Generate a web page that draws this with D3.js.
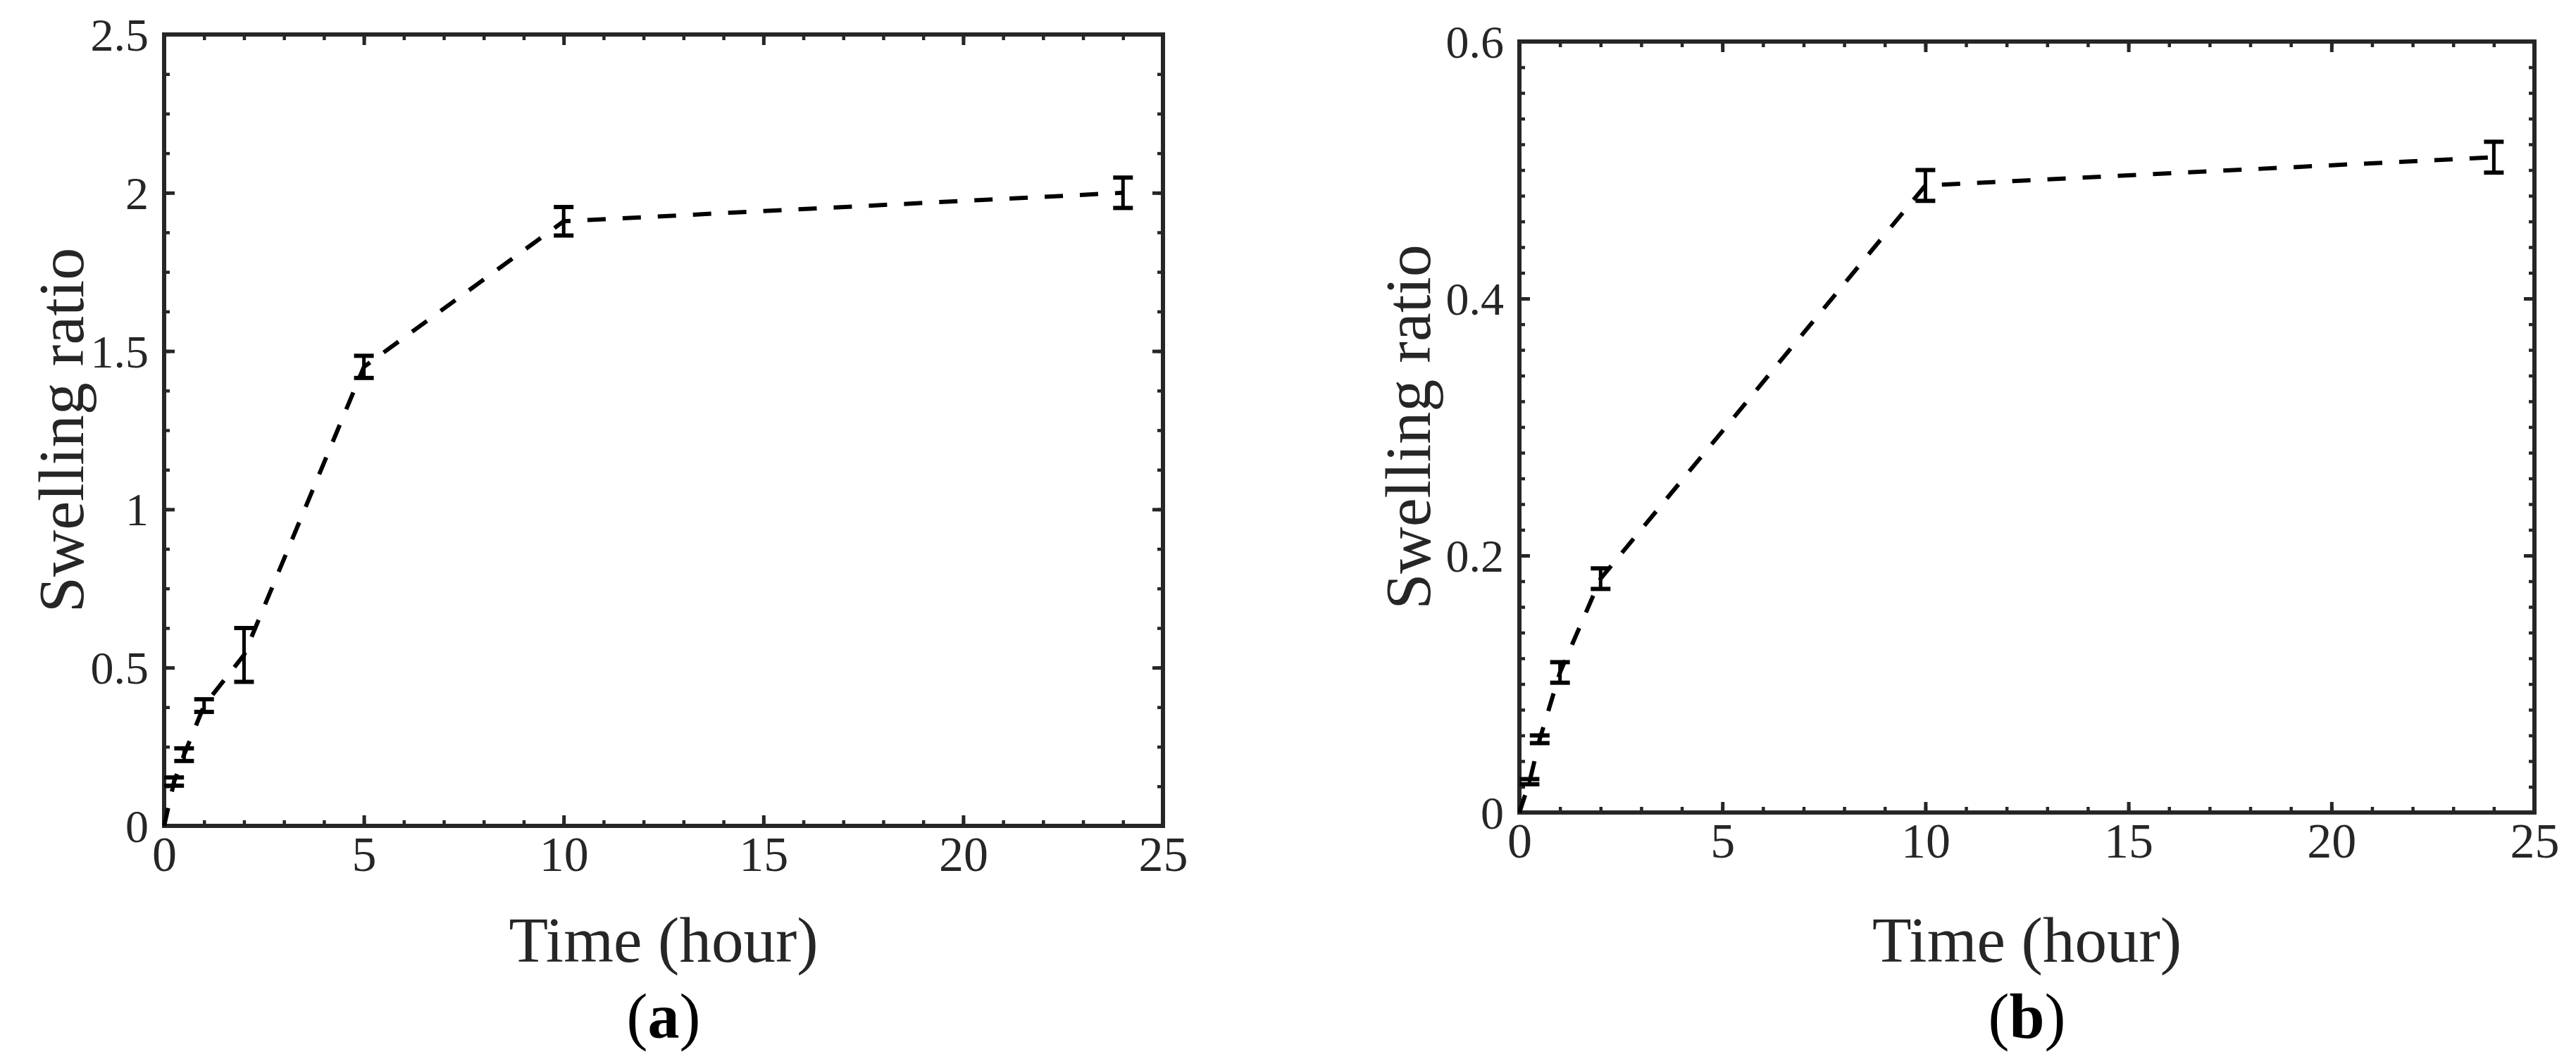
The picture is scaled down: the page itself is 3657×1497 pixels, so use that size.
<!DOCTYPE html>
<html><head><meta charset="utf-8">
<script src="https://cdn.jsdelivr.net/npm/d3@7"></script>
<style>body{margin:0;background:#fff}svg{display:block}</style>
</head><body>
<svg id="c" width="3657" height="1497"></svg>
<script>
// ---- data ----
const timeA  = [0, 0.25, 0.5, 1, 2, 5, 10, 24];
const swellA = [0, 0.14, 0.225, 0.38, 0.54, 1.45, 1.91, 2.0];
const errA   = [0, 0.013, 0.02, 0.02, 0.085, 0.035, 0.045, 0.048];

const timeB  = [0, 0.25, 0.5, 1, 2, 10, 24];
const swellB = [0, 0.024, 0.057, 0.109, 0.182, 0.488, 0.51];
const errB   = [0, 0.002, 0.003, 0.008, 0.008, 0.012, 0.012];

const xTicks  = [0, 5, 10, 15, 20, 25];
const yTicksA = [0, 0.5, 1, 1.5, 2, 2.5];
const yTicksB = [0, 0.2, 0.4, 0.6];
const xMinorStep = 1;
const yMinorStepA = 0.125;
const yMinorStepB = 0.02;
const xLabelText = "Time (hour)";
const yLabelText = "Swelling ratio";
const panelTags = ["a", "b"];

// ---- layout ----
const svg = d3.select("#c");
const FONT = "'Liberation Serif','Times New Roman',serif";
const INK = "#262626";

const panels = [
  {t: timeA, v: swellA, e: errA, yTicks: yTicksA, yMinor: yMinorStepA, tag: panelTags[0],
   x0: 233, x1: 1651, y0: 49, y1: 1173, yLabX: 86},
  {t: timeB, v: swellB, e: errB, yTicks: yTicksB, yMinor: yMinorStepB, tag: panelTags[1],
   x0: 2157, x1: 3598, y0: 59, y1: 1154, yLabX: 1998}
];

function range(a, b, s) { const out = []; const n = Math.round((b - a) / s); for (let i = 0; i <= n; i++) out.push(+(a + i * s).toFixed(6)); return out; }

panels.forEach(p => {
  const x = d3.scaleLinear().domain([xTicks[0], xTicks[xTicks.length - 1]]).range([p.x0, p.x1]);
  const y = d3.scaleLinear().domain([p.yTicks[0], p.yTicks[p.yTicks.length - 1]]).range([p.y1, p.y0]);
  const g = svg.append("g");

  const xMinor = range(xTicks[0], xTicks[xTicks.length - 1], xMinorStep);
  const yMinor = range(p.yTicks[0], p.yTicks[p.yTicks.length - 1], p.yMinor);

  function styleAxis(sel, w) {
    sel.select(".domain").remove();
    sel.selectAll(".tick line").attr("stroke", INK).attr("stroke-width", w);
  }
  // minor ticks (inward, all four sides)
  g.append("g").attr("transform", `translate(0,${p.y1})`)
    .call(d3.axisBottom(x).tickValues(xMinor).tickFormat("").tickSize(-8).tickSizeOuter(0)).call(s => styleAxis(s, 4.5));
  g.append("g").attr("transform", `translate(0,${p.y0})`)
    .call(d3.axisTop(x).tickValues(xMinor).tickFormat("").tickSize(-8).tickSizeOuter(0)).call(s => styleAxis(s, 4.5));
  g.append("g").attr("transform", `translate(${p.x0},0)`)
    .call(d3.axisLeft(y).tickValues(yMinor).tickFormat("").tickSize(-8).tickSizeOuter(0)).call(s => styleAxis(s, 4.5));
  g.append("g").attr("transform", `translate(${p.x1},0)`)
    .call(d3.axisRight(y).tickValues(yMinor).tickFormat("").tickSize(-8).tickSizeOuter(0)).call(s => styleAxis(s, 4.5));

  // major ticks + labels
  const xb = g.append("g").attr("transform", `translate(0,${p.y1})`)
    .call(d3.axisBottom(x).tickValues(xTicks).tickFormat(d3.format("")).tickSize(-15).tickSizeOuter(0).tickPadding(64));
  styleAxis(xb, 5);
  xb.selectAll("text").attr("font-family", FONT).attr("font-size", 70).attr("fill", INK).attr("dy", 0);
  const xt = g.append("g").attr("transform", `translate(0,${p.y0})`)
    .call(d3.axisTop(x).tickValues(xTicks).tickFormat("").tickSize(-15).tickSizeOuter(0));
  styleAxis(xt, 5);
  const yl = g.append("g").attr("transform", `translate(${p.x0},0)`)
    .call(d3.axisLeft(y).tickValues(p.yTicks).tickFormat(d3.format("")).tickSize(-15).tickSizeOuter(0).tickPadding(22));
  styleAxis(yl, 5);
  yl.selectAll("text").attr("font-family", FONT).attr("font-size", 66).attr("fill", INK).attr("dy", "0.34em");
  const yr = g.append("g").attr("transform", `translate(${p.x1},0)`)
    .call(d3.axisRight(y).tickValues(p.yTicks).tickFormat("").tickSize(-15).tickSizeOuter(0));
  styleAxis(yr, 5);

  // frame
  g.append("rect").attr("x", p.x0).attr("y", p.y0).attr("width", p.x1 - p.x0).attr("height", p.y1 - p.y0)
    .attr("fill", "none").attr("stroke", INK).attr("stroke-width", 6);

  // data
  const pts = p.t.map((t, i) => ({t, v: p.v[i], e: p.e[i]}));
  g.append("path").datum(pts)
    .attr("d", d3.line().x(d => x(d.t)).y(d => y(d.v)))
    .attr("fill", "none").attr("stroke", "#000").attr("stroke-width", 6).attr("stroke-dasharray", "26,24");

  const eb = g.selectAll(".eb").data(pts.filter(d => d.e > 0)).enter().append("g");
  eb.append("line").attr("x1", d => x(d.t)).attr("x2", d => x(d.t))
    .attr("y1", d => y(d.v - d.e)).attr("y2", d => y(d.v + d.e)).attr("stroke", "#000").attr("stroke-width", 5);
  [-1, 1].forEach(s => {
    eb.append("line").attr("x1", d => x(d.t) - 14).attr("x2", d => x(d.t) + 14)
      .attr("y1", d => y(d.v + s * d.e)).attr("y2", d => y(d.v + s * d.e)).attr("stroke", "#000").attr("stroke-width", 6);
  });

  // axis titles
  g.append("text").attr("x", (p.x0 + p.x1) / 2).attr("y", 1366).attr("text-anchor", "middle")
    .attr("font-family", FONT).attr("font-size", 91).attr("fill", INK).text(xLabelText);
  g.append("text").attr("transform", `translate(${p.yLabX},${(p.y0 + p.y1) / 2}) rotate(-90)`)
    .attr("text-anchor", "middle").attr("dy", "0.35em")
    .attr("font-family", FONT).attr("font-size", 92).attr("fill", INK).text(yLabelText);

  // panel tag
  const tg = g.append("text").attr("x", (p.x0 + p.x1) / 2).attr("y", 1474).attr("text-anchor", "middle")
    .attr("font-family", FONT).attr("font-size", 90).attr("fill", "#000");
  tg.append("tspan").text("(");
  tg.append("tspan").attr("font-weight", "bold").text(p.tag);
  tg.append("tspan").text(")");
});
</script>
</body></html>
